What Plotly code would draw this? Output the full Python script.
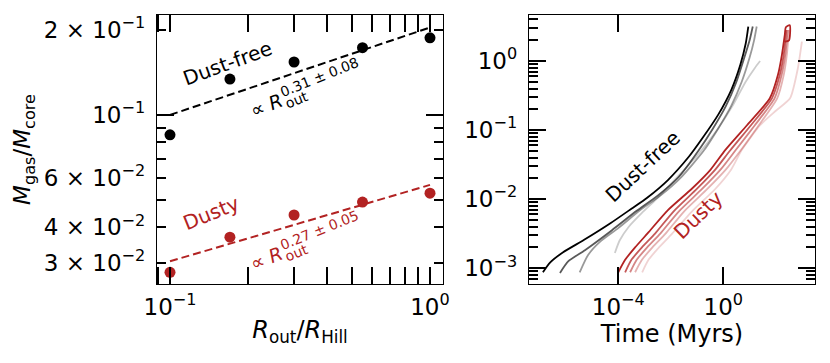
import plotly.graph_objects as go

# Left panel: gas-to-core mass ratio vs outer radius --------------
r_out = [0.1, 0.17, 0.3, 0.55, 1.0]
ratio_dustfree = [0.085, 0.134, 0.154, 0.173, 0.1875]
ratio_dusty = [0.0277, 0.0369, 0.0442, 0.0491, 0.0528]

fit_x = [0.1, 1.0]
fit_dustfree = [0.1, 0.204]
fit_dusty = [0.0303, 0.0565]

# Right panel: growth tracks (log10 time in Myr, log10 mass ratio) --
grey_t = [
    [-4.13, -3.95, -3.6, -3.1, -2.55, -1.8, -0.95, -0.24, 0.35, 0.85, 1.2, 1.4],
    [-5.47, -5.15, -4.7, -4.0, -3.2, -2.4, -1.6, -0.75, -0.2, 0.3, 0.7, 1.0, 1.17, 1.27],
    [-6.22, -5.9, -5.27, -4.24, -3.3, -2.5, -1.7, -0.95, -0.4, 0.1, 0.5, 0.8, 1.0, 1.12],
    [-6.87, -6.6, -6.1, -5.3, -4.3, -3.5, -2.9, -2.1, -1.3, -0.8, -0.2, 0.3, 0.65, 0.85, 0.95],
]
grey_m = [
    [-2.78, -2.6, -2.4, -2.2, -2.0, -1.7, -1.35, -1.0, -0.65, -0.3, -0.1, 0.0],
    [-3.06, -2.81, -2.62, -2.42, -2.17, -1.95, -1.68, -1.3, -0.98, -0.65, -0.3, 0.05, 0.3, 0.5],
    [-3.07, -2.9, -2.74, -2.45, -2.17, -1.95, -1.68, -1.3, -0.98, -0.65, -0.3, 0.05, 0.3, 0.5],
    [-3.06, -2.92, -2.77, -2.59, -2.35, -2.14, -1.98, -1.72, -1.38, -1.12, -0.78, -0.42, -0.05, 0.25, 0.5],
]
grey_col = ["rgba(0,0,0,0.2)", "rgba(0,0,0,0.4)", "rgba(0,0,0,0.65)", "rgb(0,0,0)"]

red_t = [
    [-3.09, -2.85, -2.45, -1.95, -1.2, -0.3, 0.3, 0.7, 1.4, 2.0, 2.54, 2.84, 2.99],
    [-3.36, -3.1, -2.7, -2.2, -1.5, -0.6, 0.1, 0.65, 1.35, 2.05, 2.3, 2.42, 2.5],
    [-3.55, -3.3, -2.9, -2.4, -1.7, -0.8, -0.1, 0.45, 1.2, 1.95, 2.22, 2.36, 2.45],
    [-3.74, -3.5, -3.1, -2.6, -1.9, -1.0, -0.3, 0.25, 1.05, 1.85, 2.15, 2.3, 2.4],
    [-4.0, -3.74, -3.36, -2.87, -2.11, -1.2, -0.5, 0.07, 0.9, 1.77, 2.08, 2.23, 2.34, 2.38, 2.53, 2.5, 2.34],
]
red_m = [
    [-3.06, -2.88, -2.70, -2.50, -2.18, -1.85, -1.57, -1.29, -0.93, -0.72, -0.54, -0.1, 0.28],
    [-3.06, -2.88, -2.70, -2.50, -2.18, -1.85, -1.57, -1.3, -0.93, -0.54, -0.2, 0.1, 0.45],
    [-3.06, -2.88, -2.70, -2.50, -2.18, -1.85, -1.57, -1.3, -0.93, -0.54, -0.2, 0.1, 0.45],
    [-3.06, -2.88, -2.70, -2.50, -2.18, -1.85, -1.57, -1.3, -0.93, -0.54, -0.2, 0.1, 0.45],
    [-3.06, -2.88, -2.70, -2.49, -2.16, -1.85, -1.58, -1.29, -0.93, -0.54, -0.2, 0.09, 0.38, 0.49, 0.52, 0.30, 0.28],
]
red_col = ["rgba(178,34,34,0.2)", "rgba(178,34,34,0.35)", "rgba(178,34,34,0.55)",
           "rgba(178,34,34,0.75)", "rgb(178,34,34)"]

BLACK = "black"
RED = "rgb(178,34,34)"
FONT = "DejaVu Sans"

# page body has an 8px margin, so the figure is 8px smaller than the window
W, H = 822, 355

fig = go.Figure()

# left panel
fig.add_trace(go.Scatter(x=fit_x, y=fit_dustfree, mode="lines",
                         line=dict(color=BLACK, width=2, dash="8px,4px"), xaxis="x", yaxis="y"))
fig.add_trace(go.Scatter(x=fit_x, y=fit_dusty, mode="lines",
                         line=dict(color=RED, width=2, dash="8px,4px"), xaxis="x", yaxis="y"))
fig.add_trace(go.Scatter(x=r_out, y=ratio_dustfree, mode="markers",
                         marker=dict(color=BLACK, size=11), xaxis="x", yaxis="y"))
fig.add_trace(go.Scatter(x=r_out, y=ratio_dusty, mode="markers",
                         marker=dict(color=RED, size=11), xaxis="x", yaxis="y"))
# invisible trace so the long-tick overlay axis is drawn
fig.add_trace(go.Scatter(x=[0.5], y=[0.1], mode="markers", marker=dict(opacity=0),
                         xaxis="x", yaxis="y3", hoverinfo="skip"))

# right panel
for t, m, c in zip(grey_t, grey_m, grey_col):
    fig.add_trace(go.Scatter(x=[10 ** v for v in t], y=[10 ** v for v in m], mode="lines",
                             line=dict(color=c, width=1.8, shape="spline", smoothing=0.6),
                             xaxis="x2", yaxis="y2"))
for t, m, c in zip(red_t, red_m, red_col):
    fig.add_trace(go.Scatter(x=[10 ** v for v in t], y=[10 ** v for v in m], mode="lines",
                             line=dict(color=c, width=1.8, shape="spline", smoothing=0.6),
                             xaxis="x2", yaxis="y2"))

sup = lambda e: "10<sup>%s</sup>" % e.replace("-", "\u2212")

TICKFONT = dict(family=FONT, size=23, color=BLACK)
axis_common = dict(type="log", showline=True, linecolor=BLACK, linewidth=1.3, mirror="allticks",
                   ticks="inside", tickcolor=BLACK, tickwidth=2, showgrid=False, zeroline=False,
                   tickfont=TICKFONT, ticklabelstandoff=6, automargin=False)

left_minor_x = [0.09, 0.2, 0.3, 0.4, 0.5, 0.6, 0.7, 0.8, 0.9]
fig.update_layout(
    xaxis=dict(axis_common, domain=[149 / W, 435 / W], range=[-1.05, 0.05], anchor="y",
               tickmode="array", tickvals=[0.1, 1], ticktext=[sup("-1"), sup("0")], ticklen=17,
               ticklabelstandoff=2,
               minor=dict(tickmode="array", tickvals=left_minor_x, ticklen=9, tickwidth=2,
                          tickcolor=BLACK, ticks="inside"),
               title=dict(text="<i>R</i><sub>out</sub>/<i>R</i><sub>Hill</sub>",
                          font=dict(family=FONT, size=24, color=BLACK), standoff=2)),
    yaxis=dict(axis_common, domain=[0, 1], range=[-1.599, -0.646], anchor="x",
               tickmode="array", tickvals=[0.03, 0.04, 0.06, 0.1, 0.2],
               ticktext=["3 \u00d7 " + sup("-2"), "4 \u00d7 " + sup("-2"), "6 \u00d7 " + sup("-2"),
                         sup("-1"), "2 \u00d7 " + sup("-1")],
               ticklen=9,
               minor=dict(tickmode="array", tickvals=[0.05, 0.07, 0.08, 0.09], ticklen=9,
                          tickwidth=2, tickcolor=BLACK, ticks="inside"),
               title=dict(text="<i>M</i><sub>gas</sub>/<i>M</i><sub>core</sub>",
                          font=dict(family=FONT, size=23, color=BLACK), standoff=6)),
    yaxis3=dict(type="log", overlaying="y", anchor="x", range=[-1.599, -0.646],
                tickmode="array", tickvals=[0.1], ticks="inside", ticklen=17, tickwidth=2,
                tickcolor=BLACK, showticklabels=False, showline=False, showgrid=False,
                zeroline=False, mirror="allticks", automargin=False),
    xaxis2=dict(axis_common, domain=[521 / W, 807 / W], range=[-7.40, 3.49], anchor="y2",
                tickmode="array", tickvals=[1e-4, 1], ticktext=[sup("-4"), sup("0")], ticklen=17,
                ticklabelstandoff=2,
                title=dict(text="Time (Myrs)", font=dict(family=FONT, size=24, color=BLACK),
                           standoff=2)),
    yaxis2=dict(axis_common, domain=[0, 1], range=[-3.23, 0.667], anchor="x2",
                tickmode="array", tickvals=[1e-3, 1e-2, 1e-1, 1],
                ticktext=[sup("-3"), sup("-2"), sup("-1"), sup("0")], ticklen=17,
                minor=dict(tickmode="array",
                           tickvals=[k * 10 ** e for e in range(-4, 1) for k in range(2, 10)
                                     if 5.9e-4 < k * 10 ** e < 4.6],
                           ticklen=9, tickwidth=2, tickcolor=BLACK, ticks="inside")),
)

ann = dict(showarrow=False, xanchor="center", yanchor="middle")
fig.add_annotation(ann, x=-0.777, y=-0.816, xref="x", yref="y", text="Dust-free", textangle=-20,
                   font=dict(family=FONT, size=20, color=BLACK))
fig.add_annotation(ann, x=-0.842, y=-1.348, xref="x", yref="y", text="Dusty", textangle=-22,
                   font=dict(family=FONT, size=20, color=RED))

# power-law labels: "∝ R", superscript exponent and "out" subscript stacked
fits = [("0.31 \u00b1 0.08", BLACK, -0.965, -0.866, -0.947),
        ("0.27 \u00b1 0.05", RED, -1.508, -1.408, -1.490)]
for expo, col, y_r, y_sup, y_sub in fits:
    fig.add_annotation(ann, x=-0.627, y=y_r, xref="x", yref="y", text="\u221d <i>R</i>",
                       textangle=-22, font=dict(family=FONT, size=19, color=col))
    fig.add_annotation(ann, x=-0.425, y=y_sup, xref="x", yref="y", text=expo,
                       textangle=-22, font=dict(family=FONT, size=14, color=col))
    fig.add_annotation(ann, x=-0.515, y=y_sub, xref="x", yref="y", text="out",
                       textangle=-22, font=dict(family=FONT, size=14, color=col))

fig.add_annotation(ann, x=-3.06, y=-1.52, xref="x2", yref="y2", text="Dust-free", textangle=-43,
                   font=dict(family=FONT, size=20, color=BLACK))
fig.add_annotation(ann, x=-0.96, y=-2.23, xref="x2", yref="y2", text="Dusty", textangle=-44,
                   font=dict(family=FONT, size=20, color=RED))

fig.update_layout(width=W, height=H, showlegend=False, plot_bgcolor="white",
                  paper_bgcolor="white", margin=dict(l=0, r=0, t=7, b=79),
                  font=dict(family=FONT, color=BLACK))

fig.write_html("out.html")
